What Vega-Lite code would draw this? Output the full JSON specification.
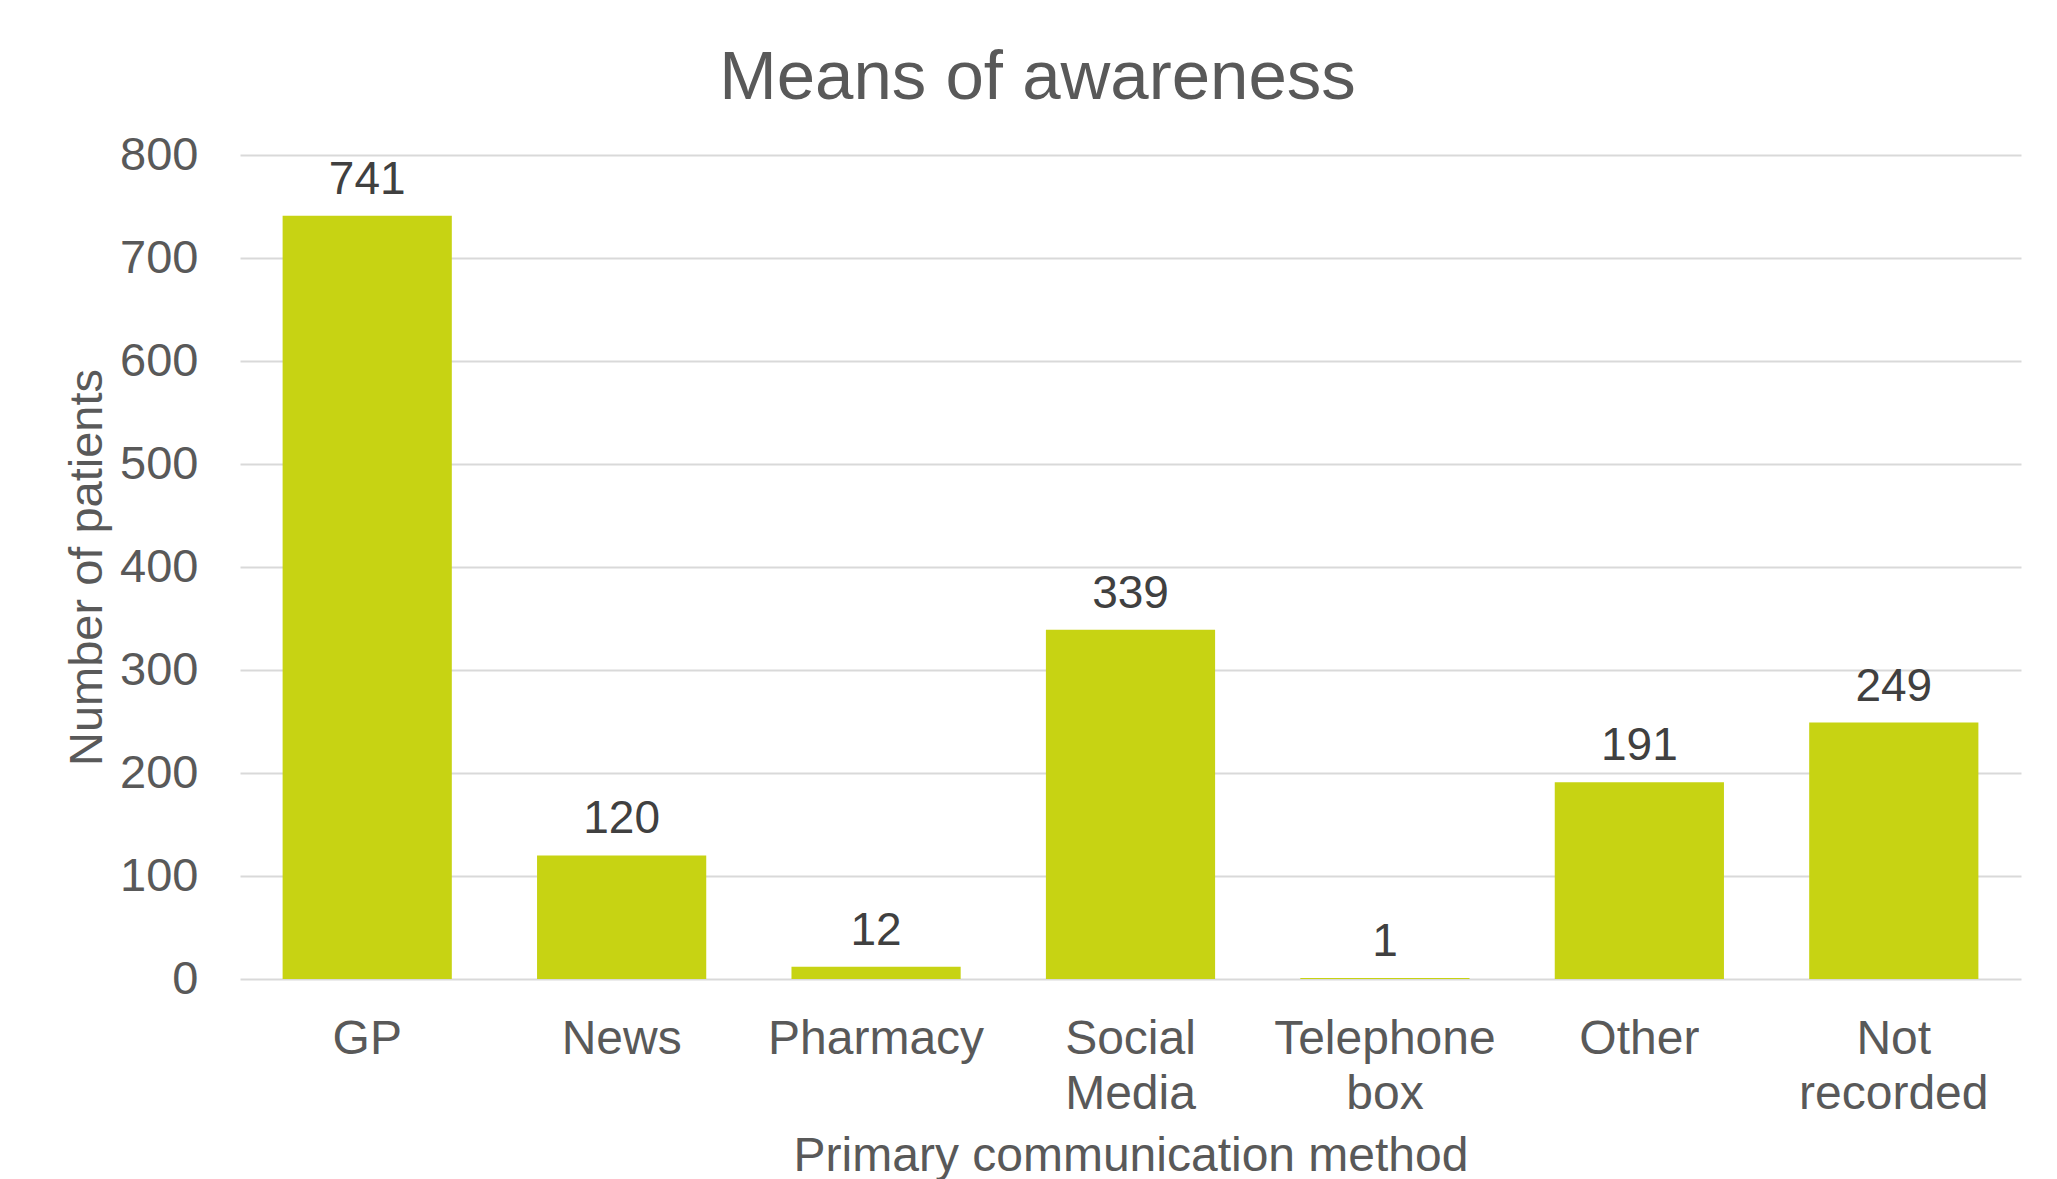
{
  "$schema": "https://vega.github.io/schema/vega-lite/v6.json",
  "width": 1781,
  "height": 824,
  "autosize": {"type": "none"},
  "padding": {"left": 240, "top": 155, "right": 36, "bottom": 200},
  "background": "white",
  "title": {
    "text": "Means of awareness",
    "font": "Liberation Sans",
    "fontSize": 69,
    "fontWeight": "normal",
    "color": "#595959",
    "anchor": "middle",
    "dx": -93,
    "baseline": "alphabetic",
    "offset": -37
  },
  "data": {
    "values": [
      {"method": "GP", "patients": 741},
      {"method": "News", "patients": 120},
      {"method": "Pharmacy", "patients": 12},
      {"method": "Social Media", "patients": 339},
      {"method": "Telephone box", "patients": 1},
      {"method": "Other", "patients": 191},
      {"method": "Not recorded", "patients": 249}
    ]
  },
  "config": {
    "view": {"stroke": null},
    "font": "Liberation Sans"
  },
  "encoding": {
    "x": {
      "field": "method",
      "type": "nominal",
      "sort": null,
      "title": "Primary communication method",
      "scale": {"paddingInner": 0.335, "paddingOuter": 0.1675},
      "axis": {
        "domain": false,
        "ticks": false,
        "labelAngle": 0,
        "labelLimit": 0,
        "labelFont": "Liberation Sans",
        "labelFontSize": 48,
        "labelColor": "#595959",
        "labelPadding": 36,
        "labelLineHeight": 55,
        "labelExpr": "datum.label == 'Social Media' ? ['Social', 'Media'] : datum.label == 'Telephone box' ? ['Telephone', 'box'] : datum.label == 'Not recorded' ? ['Not', 'recorded'] : datum.label",
        "titleFont": "Liberation Sans",
        "titleFontSize": 48,
        "titleFontWeight": "normal",
        "titleColor": "#595959",
        "titlePadding": 14
      }
    },
    "y": {
      "field": "patients",
      "type": "quantitative",
      "title": "Number of patients",
      "scale": {"domain": [0, 800], "nice": false},
      "axis": {
        "values": [0, 100, 200, 300, 400, 500, 600, 700, 800],
        "domain": false,
        "ticks": false,
        "grid": true,
        "gridColor": "#d9d9d9",
        "gridWidth": 2,
        "labelFont": "Liberation Sans",
        "labelFontSize": 47,
        "labelColor": "#595959",
        "labelPadding": 42,
        "titleFont": "Liberation Sans",
        "titleFontSize": 47,
        "titleFontWeight": "normal",
        "titleColor": "#595959",
        "titlePadding": 8
      }
    }
  },
  "layer": [
    {
      "mark": {"type": "bar", "color": "#c7d313"}
    },
    {
      "mark": {
        "type": "text",
        "font": "Liberation Sans",
        "fontSize": 46,
        "color": "#404040",
        "baseline": "alphabetic",
        "dy": -22
      },
      "encoding": {
        "text": {"field": "patients", "type": "quantitative"}
      }
    }
  ]
}
